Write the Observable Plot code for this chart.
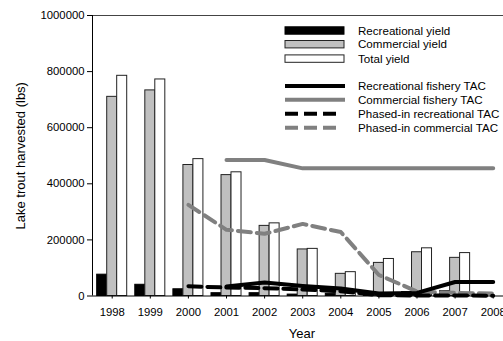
<!DOCTYPE html>
<html><head><meta charset="utf-8">
<script src="https://cdn.jsdelivr.net/npm/d3@7"></script>
<script src="https://cdn.jsdelivr.net/npm/@observablehq/plot@0.6"></script>
<style>
html,body{margin:0;padding:0;background:#fff;}
svg{display:block;}
</style>
</head><body>
<div id="chart"></div>
<script>
const years = [1998, 1999, 2000, 2001, 2002, 2003, 2004, 2005, 2006, 2007];
const recYield = [76000, 40000, 24000, 10000, 10000, 5000, 8000, 14000, 14000, 17000];
const comYield = [710000, 733000, 467000, 431000, 250000, 166000, 79000, 118000, 156000, 136000];
const totYield = [785000, 772000, 488000, 441000, 259000, 168000, 85000, 132000, 170000, 153000];

const tacYears = [2001, 2002, 2003, 2004, 2005, 2006, 2007, 2008];
const recTAC = [34000, 48000, 36000, 27000, 9000, 11000, 50000, 50000];
const comTAC = [485000, 485000, 455000, 455000, 455000, 455000, 455000, 455000];

const phYears = [2000, 2001, 2002, 2003, 2004, 2005, 2006, 2007, 2008];
const phRec = [35000, 30000, 28000, 23000, 17000, 3000, 2000, 2000, 1000];
const phCom = [325000, 236000, 222000, 257000, 228000, 75000, 16000, 11000, 9000];

const xTicks = [1998, 1999, 2000, 2001, 2002, 2003, 2004, 2005, 2006, 2007, 2008];
const yTicks = [0, 200000, 400000, 600000, 800000, 1000000];
const xDomain = [1997.483, 2008.27];
const yDomain = [0, 1000000];

const barLabels = ["Recreational yield", "Commercial yield", "Total yield"];
const lineLabels = ["Recreational fishery TAC", "Commercial fishery TAC", "Phased-in recreational TAC", "Phased-in commercial TAC"];

const bars = years.map((y, i) => ({year: y, rec: recYield[i], com: comYield[i], tot: totYield[i]}));
const tac = tacYears.map((y, i) => ({year: y, rec: recTAC[i], com: comTAC[i]}));
const ph = phYears.map((y, i) => ({year: y, rec: phRec[i], com: phCom[i]}));

const half = 0.131, full = 0.394;
const font = "'Liberation Sans', Arial, sans-serif";
const dash = "13,6";
const lw = 4;

const plot = Plot.plot({
  width: 503,
  height: 341,
  marginLeft: 92,
  marginRight: 0,
  marginTop: 15,
  marginBottom: 45.5,
  style: {fontFamily: font, fontSize: "11px", background: "#fff", color: "#000"},
  x: {type: "linear", domain: xDomain},
  y: {domain: yDomain},
  marks: [
    Plot.rectY(bars, {x1: d => d.year - full, x2: d => d.year - half, y: "rec", fill: "#000", stroke: "#000", strokeWidth: 1}),
    Plot.rectY(bars, {x1: d => d.year - half, x2: d => d.year + half, y: "com", fill: "#c0c0c0", stroke: "#222", strokeWidth: 1}),
    Plot.rectY(bars, {x1: d => d.year + half, x2: d => d.year + full, y: "tot", fill: "#fff", stroke: "#222", strokeWidth: 1}),
    Plot.line(tac, {x: "year", y: "com", stroke: "#808080", strokeWidth: lw}),
    Plot.line(ph, {x: "year", y: "com", stroke: "#808080", strokeWidth: lw, strokeDasharray: dash}),
    Plot.line(ph, {x: "year", y: "rec", stroke: "#000", strokeWidth: lw, strokeDasharray: dash}),
    Plot.line(tac, {x: "year", y: "rec", stroke: "#000", strokeWidth: lw}),
    Plot.ruleY([yDomain[1]], {stroke: "#444", strokeWidth: 1}),
    Plot.ruleY([yDomain[0]], {stroke: "#000", strokeWidth: 1}),
    Plot.ruleX([xDomain[0]], {stroke: "#000", strokeWidth: 1}),
    Plot.axisX({ticks: xTicks, tickFormat: "d", tickSize: 3, tickPadding: 9, label: null, fontSize: 11.3}),
    Plot.axisY({ticks: yTicks, tickFormat: "d", tickSize: 5, tickPadding: 3, label: null, fontSize: 11.3}),
    Plot.text(["Year"], {frameAnchor: "bottom", dy: 37.5, dx: 4, fontSize: 13, textAnchor: "middle", lineAnchor: "middle"}),
    Plot.text(["Lake trout harvested (lbs)"], {frameAnchor: "left", dx: -72, rotate: -90, fontSize: 13, textAnchor: "middle", lineAnchor: "middle"})
  ]
});

// Legend drawn into the same SVG
const svg = d3.select(plot);
const lg = svg.append("g").attr("font-family", font).attr("font-size", 11.6).attr("text-anchor", "start");
const barStyles = [
  {fill: "#000", stroke: "#000"},
  {fill: "#c0c0c0", stroke: "#222"},
  {fill: "#fff", stroke: "#222"}
];
const barRowY = [30.5, 44.2, 58.6];
barLabels.forEach((t, i) => {
  lg.append("rect").attr("x", 285).attr("y", barRowY[i] - 3.7).attr("width", 59).attr("height", 7.4)
    .attr("fill", barStyles[i].fill).attr("stroke", barStyles[i].stroke).attr("stroke-width", 1);
  lg.append("text").attr("x", 358).attr("y", barRowY[i]).attr("dy", "0.35em").attr("text-anchor", "start").text(t);
});
const lineStyles = [
  {stroke: "#000", dash: null, x2: 345},
  {stroke: "#808080", dash: null, x2: 345},
  {stroke: "#000", dash: dash, x2: 337},
  {stroke: "#808080", dash: dash, x2: 337}
];
const lineRowY = [86, 99.7, 113.7, 127.7];
lineLabels.forEach((t, i) => {
  const l = lg.append("line").attr("x1", 285).attr("x2", lineStyles[i].x2).attr("y1", lineRowY[i]).attr("y2", lineRowY[i])
    .attr("stroke", lineStyles[i].stroke).attr("stroke-width", lw);
  if (lineStyles[i].dash) l.attr("stroke-dasharray", lineStyles[i].dash);
  lg.append("text").attr("x", 358).attr("y", lineRowY[i]).attr("dy", "0.35em").attr("text-anchor", "start").text(t);
});

document.getElementById("chart").appendChild(plot);
</script>
</body></html>
